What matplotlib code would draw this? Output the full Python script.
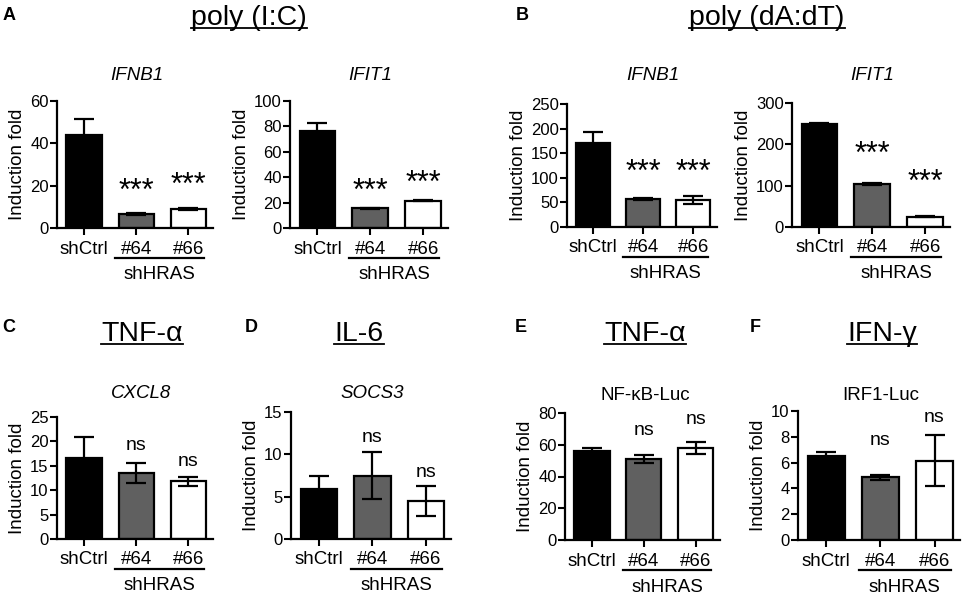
import matplotlib
matplotlib.use("Agg")
import matplotlib.pyplot as plt
from matplotlib.lines import Line2D
from matplotlib.transforms import blended_transform_factory

plt.rcParams['font.family'] = ['Liberation Sans', 'DejaVu Sans']

W, H = 965, 599

groups = ["shCtrl", "#64", "#66"]
bar_colors = ["black", "#606060", "white"]

# values: (mean, sem)
a_ifnb1 = [44, 6.5, 9]
a_ifnb1_err = [7.5, 0.4, 0.3]
a_ifit1 = [76, 15.5, 21.5]
a_ifit1_err = [6.5, 0.6, 0.6]
b_ifnb1 = [170, 57, 55]
b_ifnb1_err = [23, 2.5, 9]
b_ifit1 = [250, 105, 25]
b_ifit1_err = [2.5, 2.5, 0.5]
c_cxcl8 = [16.5, 13.5, 11.8]
c_cxcl8_err = [4.3, 2.0, 1.0]
d_socs3 = [5.9, 7.5, 4.5]
d_socs3_err = [1.6, 2.8, 1.8]
e_nfkb = [56, 51, 58]
e_nfkb_err = [2.2, 2.5, 4.0]
f_irf1 = [6.5, 4.85, 6.15]
f_irf1_err = [0.35, 0.2, 2.0]

stars = ["", "***", "***"]
ns_marks = ["", "ns", "ns"]

fig = plt.figure(figsize=(W / 100, H / 100), dpi=100)


def px_axes(left, right, top, bottom):
    return fig.add_axes([left / W, 1 - bottom / H, (right - left) / W, (bottom - top) / H])


def panel(box, vals, errs, ymax, step, title, title_xy, marks, mark_y, italic=True):
    ax = px_axes(*box)
    x = range(len(vals))
    ax.bar(x, vals, width=0.68, color=bar_colors, edgecolor="black", linewidth=1.6, zorder=2)
    ax.errorbar(x, vals, yerr=errs, fmt="none", ecolor="black", elinewidth=1.6,
                capsize=7, capthick=1.6, zorder=3)
    ax.set_xlim(-0.52, 2.47)
    ax.set_ylim(0, ymax)
    ax.set_yticks(range(0, ymax + 1, step))
    ax.set_xticks(list(x))
    ax.set_xticklabels(groups, fontsize=13.5)
    ax.tick_params(axis="y", labelsize=12, length=5, width=1.5, pad=1)
    ax.tick_params(axis="x", length=5, width=1.5, pad=4)
    for s in ["top", "right"]:
        ax.spines[s].set_visible(False)
    for s in ["left", "bottom"]:
        ax.spines[s].set_linewidth(1.6)
    ax.set_ylabel("Induction fold", fontsize=13.5, labelpad=3)
    for i, m in enumerate(marks):
        if m:
            size = 22 if "*" in m else 14
            ax.text(i, mark_y[i], m, ha="center", va="center", fontsize=size)
    fig.text(title_xy[0] / W, 1 - title_xy[1] / H, title, ha="center", va="center",
             fontsize=13.5, style="italic" if italic else "normal")
    # shHRAS bracket under the two knockdown labels
    bottom = box[3]
    tr = blended_transform_factory(ax.transData, fig.transFigure)
    fig.add_artist(Line2D([0.6, 2.3], [1 - (bottom + 30) / H] * 2, transform=tr,
                          color="black", linewidth=1.6))
    fig.text(1.45, 1 - (bottom + 47) / H, "shHRAS", transform=tr, fontsize=13.5,
             ha="center", va="center")
    return ax


panel((57, 213, 101, 228), a_ifnb1, a_ifnb1_err, 60, 20, "IFNB1", (137, 76),
      stars, [0, 17.0, 20.0])
panel((290, 448, 101, 228), a_ifit1, a_ifit1_err, 100, 20, "IFIT1", (370, 76),
      stars, [0, 28.5, 35.0])
panel((567, 717, 104, 227), b_ifnb1, b_ifnb1_err, 250, 50, "IFNB1", (653, 76),
      stars, [0, 109, 109])
panel((792, 950, 103, 227), b_ifit1, b_ifit1_err, 300, 100, "IFIT1", (872, 76),
      stars, [0, 174, 106])
panel((57, 213, 417, 539), c_cxcl8, c_cxcl8_err, 25, 5, "CXCL8", (141, 394),
      ns_marks, [0, 19.1, 15.8])
panel((291, 451, 412, 539), d_socs3, d_socs3_err, 15, 5, "SOCS3", (372, 394),
      ns_marks, [0, 12.0, 7.9])
panel((565, 720, 413, 540), e_nfkb, e_nfkb_err, 80, 20, "NF-\u03baB-Luc", (645, 395),
      ns_marks, [0, 68.8, 75.8], italic=False)
panel((798, 960, 411, 540), f_irf1, f_irf1_err, 10, 2, "IRF1-Luc", (881, 395),
      ns_marks, [0, 7.75, 9.5], italic=False)

# panel letters
for letter, lx, ly in [("A", 9, 15), ("B", 522, 15), ("C", 9, 328), ("D", 251, 328),
                       ("E", 521, 328), ("F", 755, 328)]:
    fig.text(lx / W, 1 - ly / H, letter, fontsize=13, fontweight="bold", ha="center", va="center")

# underlined stimulus headings (x centre, baseline in pixels)
headings = [("poly (I:C)", 249, 25), ("poly (dA:dT)", 767, 25), ("TNF-\u03b1", 142, 341),
            ("IL-6", 359, 341), ("TNF-\u03b1", 645, 341), ("IFN-\u03b3", 882, 341)]
head_texts = []
for txt, hx, hy in headings:
    t = fig.text(hx / W, 1 - hy / H, txt, fontsize=20.5, ha="center", va="baseline")
    head_texts.append((t, hy))

fig.canvas.draw()
renderer = fig.canvas.get_renderer()
for t, hy in head_texts:
    bb = t.get_window_extent(renderer)
    y = 1 - (hy + 3) / H
    fig.add_artist(Line2D([bb.x0 / W, bb.x1 / W], [y, y], transform=fig.transFigure,
                          color="black", linewidth=1.3))

fig.savefig("out.png", dpi=100)
